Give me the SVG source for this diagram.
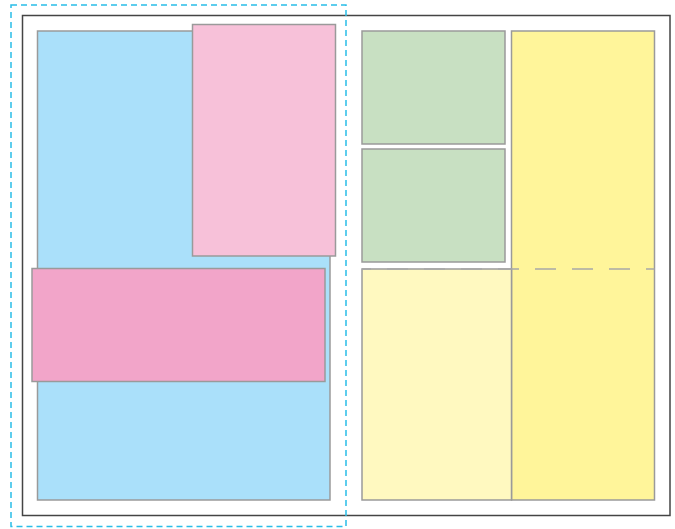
<svg xmlns="http://www.w3.org/2000/svg" width="675" height="529" viewBox="0 0 675 529">
<style>
.box{stroke:#9a9a9a;stroke-width:1.5}
</style>
<rect width="675" height="529" fill="#ffffff"/>
<g id="frame"><rect x="22.5" y="15.5" width="647.5" height="500" fill="none" stroke="#444" stroke-width="1.5"/></g>
<g id="blue"><rect class="box" x="37.5" y="31" width="292.5" height="469" fill="#aae0fa"/></g>
<g id="pink-top"><rect class="box" x="192.5" y="24.5" width="143" height="231.5" fill="#f7c1d9"/></g>
<g id="pink-bottom"><rect class="box" x="32" y="268.5" width="293" height="113" fill="#f2a5c9"/></g>
<g id="green-1"><rect class="box" x="362" y="31" width="143" height="113" fill="#c8e0c2"/></g>
<g id="green-2"><rect class="box" x="362" y="149" width="143" height="113" fill="#c8e0c2"/></g>
<g id="yellow"><rect class="box" x="511.5" y="31" width="143" height="469" fill="#fff59a"/></g>
<g id="light-yellow"><rect class="box" x="362" y="269" width="149.5" height="231" fill="#fff9c0"/></g>
<g id="connectors">
<line x1="362" y1="269" x2="654.5" y2="269" stroke="#a8a8a8" stroke-width="1.5" stroke-dasharray="21 16" stroke-dashoffset="12"/>
</g>
<g id="selection"><rect x="11" y="5" width="335" height="521.5" fill="none" stroke="#29bde8" stroke-width="1.5" stroke-dasharray="6 4"/></g>
</svg>
